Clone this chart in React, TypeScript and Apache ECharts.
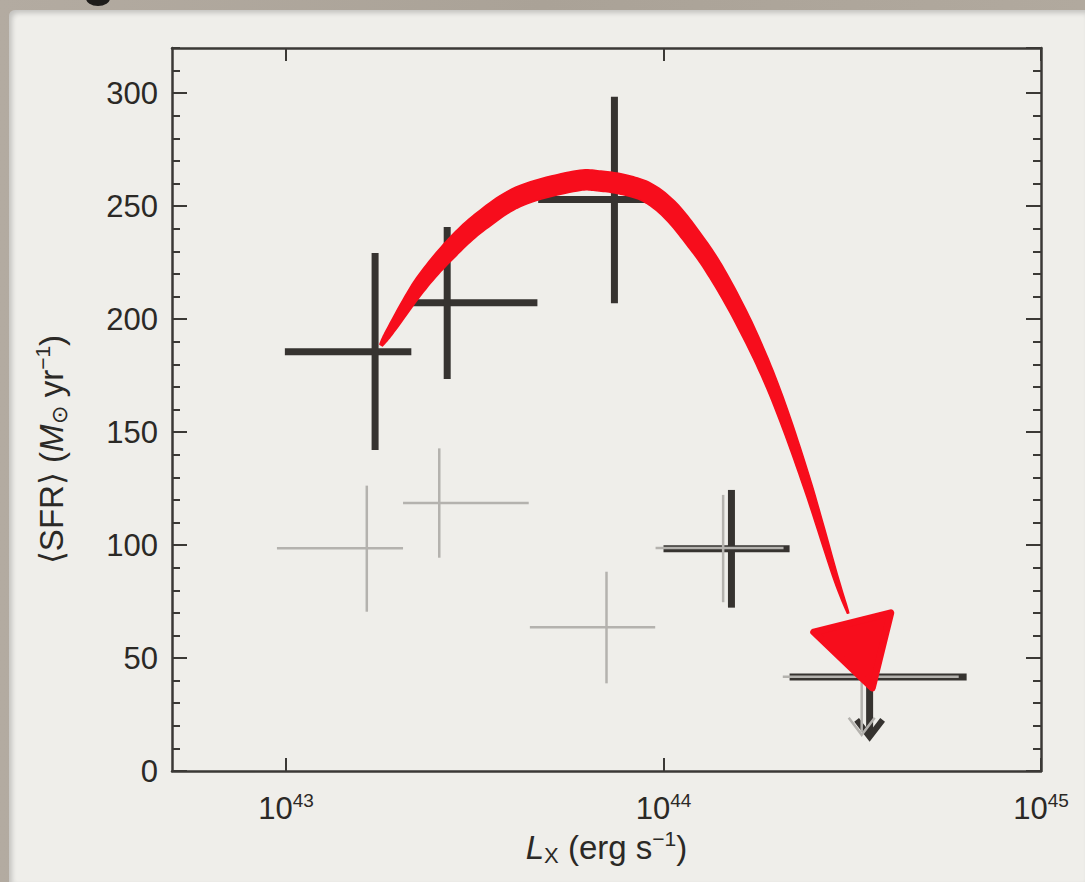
import React, { useEffect, useRef } from "react";
import * as echarts from "echarts";

// x values are log10(L_X / erg s^-1), y values are <SFR> in M_sun / yr
const xTickValues = [43, 44, 45];

const darkLogLx = [43.236, 43.427, 43.87, 44.18];
const darkLogLxLow = [42.997, 43.332, 43.668, 44.0];
const darkLogLxHigh = [43.332, 43.666, 44.0, 44.334];
const darkSFR = [185.6, 207.2, 253, 98.4];
const darkSFRLow = [142.1, 173.5, 207, 72.3];
const darkSFRHigh = [229.3, 240.8, 298.4, 124.4];

const greyLogLx = [43.214, 43.406, 43.849, 44.158];
const greyLogLxLow = [42.976, 43.31, 43.646, 43.979];
const greyLogLxHigh = [43.31, 43.643, 43.978, 44.318];
const greySFR = [98.6, 118.6, 63.6, 98.7];
const greySFRLow = [70.5, 94.4, 38.8, 74.7];
const greySFRHigh = [126.3, 142.8, 88.2, 122.2];

// upper limits (highest luminosity bin)
const darkLimitLogLx = [44.546];
const darkLimitLogLxLow = [44.334];
const darkLimitLogLxHigh = [44.803];
const darkLimitSFR = [41.6];
const darkLimitArrowTip = [15.1];

const greyLimitLogLx = [44.525];
const greyLimitLogLxLow = [44.316];
const greyLimitLogLxHigh = [44.782];
const greyLimitSFR = [41.7];
const greyLimitArrowTip = [16.0];

// hand-drawn red annotation arrow (centre line and head), in data coordinates
const redArrowLogLx = [43.252, 43.281, 43.355, 43.434, 43.514, 43.62, 43.766, 43.832, 43.898, 43.959, 44.017, 44.075, 44.136, 44.216, 44.295, 44.377, 44.454, 44.489];
const redArrowSFR = [188.5, 196.1, 215.1, 230.6, 243.0, 254.5, 261.1, 261.1, 259.4, 255.9, 248.3, 236.5, 221.8, 197.4, 167.7, 128.8, 86.8, 69.9];
const redHeadLogLx = [44.398, 44.602, 44.553];
const redHeadSFR = [61.5, 70.0, 36.8];

const DARK = "#363330";
const GREY = "#b4b2ae";
const RED = "#f70d1c";
const TEXT = "#2b2926";
const AXIS = "#3b3936";
const FONT = "'Liberation Sans', Arial, Helvetica, sans-serif";

const crossRender = (lw: number, color: string) => (params: any, api: any) => {
  const x = api.value(0), xl = api.value(1), xh = api.value(2);
  const y = api.value(3), yl = api.value(4), yh = api.value(5);
  const a = api.coord([xl, y]), b = api.coord([xh, y]);
  const c = api.coord([x, yl]), d = api.coord([x, yh]);
  return {
    type: "group",
    children: [
      { type: "line", shape: { x1: a[0], y1: a[1], x2: b[0], y2: b[1] }, style: { stroke: color, lineWidth: lw } },
      { type: "line", shape: { x1: c[0], y1: c[1], x2: d[0], y2: d[1] }, style: { stroke: color, lineWidth: lw } },
    ],
  };
};

const limitRender = (lw: number, color: string, headLw: number) => (params: any, api: any) => {
  const x = api.value(0), xl = api.value(1), xh = api.value(2);
  const y = api.value(3), tip = api.value(4);
  const a = api.coord([xl, y]), b = api.coord([xh, y]);
  const c = api.coord([x, y]), t = api.coord([x, tip]);
  return {
    type: "group",
    children: [
      { type: "line", shape: { x1: a[0], y1: a[1], x2: b[0], y2: b[1] }, style: { stroke: color, lineWidth: lw } },
      { type: "line", shape: { x1: c[0], y1: c[1], x2: t[0], y2: t[1] - 3 }, style: { stroke: color, lineWidth: lw } },
      {
        type: "polyline",
        shape: { points: [[t[0] - 13, t[1] - 17], [t[0], t[1]], [t[0] + 13, t[1] - 17]] },
        style: { stroke: color, lineWidth: headLw, fill: "none", lineJoin: "miter" },
      },
    ],
  };
};

// Catmull-Rom resampling of the stroke's centre line (pixel space), for rendering only
const resample = (pts: number[][], widths: number[], n: number) => {
  const outP: number[][] = [];
  const outW: number[] = [];
  for (let i = 0; i < pts.length - 1; i++) {
    const p0 = pts[Math.max(0, i - 1)], p1 = pts[i], p2 = pts[i + 1], p3 = pts[Math.min(pts.length - 1, i + 2)];
    for (let k = 0; k < n; k++) {
      const t = k / n, t2 = t * t, t3 = t2 * t;
      const f = (a: number, b: number, c: number, d: number) =>
        0.5 * (2 * b + (-a + c) * t + (2 * a - 5 * b + 4 * c - d) * t2 + (-a + 3 * b - 3 * c + d) * t3);
      outP.push([f(p0[0], p1[0], p2[0], p3[0]), f(p0[1], p1[1], p2[1], p3[1])]);
      outW.push(widths[i] + (widths[i + 1] - widths[i]) * t);
    }
  }
  outP.push(pts[pts.length - 1]);
  outW.push(widths[widths.length - 1]);
  return { outP, outW };
};

const redRender = (params: any, api: any) => {
  const widths = [3, 8, 14, 17, 18.5, 19.5, 20, 20, 20, 19.5, 19, 18, 17, 15, 12, 9, 5, 1.5];
  const raw = redArrowLogLx.map((x, i) => api.coord([x, redArrowSFR[i]]));
  const { outP: pts, outW } = resample(raw, widths, 12);
  const left: number[][] = [];
  const right: number[][] = [];
  pts.forEach((p: number[], i: number) => {
    const a = pts[Math.max(0, i - 1)];
    const b = pts[Math.min(pts.length - 1, i + 1)];
    let tx = b[0] - a[0], ty = b[1] - a[1];
    const len = Math.hypot(tx, ty) || 1;
    tx /= len; ty /= len;
    const nx = -ty, ny = tx, h = outW[i] / 2;
    left.push([p[0] + nx * h, p[1] + ny * h]);
    right.push([p[0] - nx * h, p[1] - ny * h]);
  });
  const body = left.concat(right.reverse());
  const head = redHeadLogLx.map((x, i) => api.coord([x, redHeadSFR[i]]));
  return {
    type: "group",
    children: [
      { type: "polygon", shape: { points: body }, style: { fill: RED, stroke: RED, lineWidth: 1.5, lineJoin: "round" } },
      { type: "polygon", shape: { points: head }, style: { fill: RED, stroke: RED, lineWidth: 7, lineJoin: "round" } },
    ],
  };
};

const darkRows = darkLogLx.map((x, i) => [x, darkLogLxLow[i], darkLogLxHigh[i], darkSFR[i], darkSFRLow[i], darkSFRHigh[i]]);
const greyRows = greyLogLx.map((x, i) => [x, greyLogLxLow[i], greyLogLxHigh[i], greySFR[i], greySFRLow[i], greySFRHigh[i]]);
const darkLimitRows = darkLimitLogLx.map((x, i) => [x, darkLimitLogLxLow[i], darkLimitLogLxHigh[i], darkLimitSFR[i], darkLimitArrowTip[i]]);
const greyLimitRows = greyLimitLogLx.map((x, i) => [x, greyLimitLogLxLow[i], greyLimitLogLxHigh[i], greyLimitSFR[i], greyLimitArrowTip[i]]);

const nameRich = {
  t: { fontSize: 33, lineHeight: 38, color: TEXT, fontFamily: FONT },
  i: { fontSize: 33, lineHeight: 38, color: TEXT, fontFamily: FONT, fontStyle: "italic" },
  sub: { fontSize: 22, lineHeight: 22, color: TEXT, fontFamily: FONT, verticalAlign: "bottom" },
  sup: { fontSize: 21, lineHeight: 22, color: TEXT, fontFamily: FONT, verticalAlign: "top" },
};

const axisLine = { show: true, onZero: false, lineStyle: { color: AXIS, width: 2.5 } };

const makeYAxis = (position: string, interval: number, tickLen: number, main: boolean, showLine: boolean) => ({
  type: "value",
  position,
  min: 0,
  max: 320,
  interval,
  offset: 0,
  axisLine: showLine ? axisLine : { show: false },
  axisTick: { show: true, inside: true, length: tickLen, lineStyle: { color: AXIS, width: 2 } },
  axisLabel: main
    ? { show: true, fontSize: 31, color: TEXT, fontFamily: FONT, margin: 14, showMaxLabel: false }
    : { show: false },
  splitLine: { show: false },
});

const option: any = {
  animation: false,
  backgroundColor: "transparent",
  grid: { left: 172, right: 44, top: 48, bottom: 111, containLabel: false },
  xAxis: [
    {
      type: "value",
      position: "bottom",
      min: 42.698,
      max: 45,
      axisLine,
      axisTick: { show: true, inside: true, length: 13, lineStyle: { color: AXIS, width: 2 }, customValues: xTickValues },
      axisLabel: {
        show: true,
        customValues: xTickValues,
        margin: 20,
        formatter: (v: number) => `{b|10}{s|${Math.round(v)}}`,
        rich: {
          b: { fontSize: 31, lineHeight: 34, color: TEXT, fontFamily: FONT },
          s: { fontSize: 19, lineHeight: 22, color: TEXT, fontFamily: FONT, verticalAlign: "top" },
        },
      },
      splitLine: { show: false },
      name: "{i|L}{sub|X}{t| (erg s}{sup|−1}{t|)}",
      nameLocation: "middle",
      nameGap: 55,
      nameTextStyle: { rich: nameRich },
    },
    {
      type: "value",
      position: "top",
      min: 42.698,
      max: 45,
      axisLine,
      axisTick: { show: true, inside: true, length: 13, lineStyle: { color: AXIS, width: 2 }, customValues: xTickValues },
      axisLabel: { show: false },
      splitLine: { show: false },
    },
  ],
  yAxis: [
    {
      ...makeYAxis("left", 50, 15, true, true),
      name: "{t|⟨SFR⟩ (}{i|M}{sub|⊙}{t| yr}{sup|−1}{t|)}",
      nameLocation: "middle",
      nameRotate: 90,
      nameGap: 102,
      nameTextStyle: { rich: nameRich, padding: [0, 80, 0, 0] },
    },
    makeYAxis("left", 10, 8, false, false),
    makeYAxis("right", 50, 15, false, true),
    makeYAxis("right", 10, 8, false, false),
  ],
  series: [
    { type: "custom", renderItem: crossRender(7, DARK), data: darkRows, encode: { x: 0, y: 3 }, z: 2 },
    { type: "custom", renderItem: limitRender(7, DARK, 6), data: darkLimitRows, encode: { x: 0, y: 3 }, z: 2 },
    { type: "custom", renderItem: crossRender(2.5, GREY), data: greyRows, encode: { x: 0, y: 3 }, z: 3 },
    { type: "custom", renderItem: limitRender(2.5, GREY, 2.5), data: greyLimitRows, encode: { x: 0, y: 3 }, z: 3 },
    { type: "custom", renderItem: redRender, data: [[43.8, 200]], encode: { x: 0, y: 1 }, z: 5, silent: true },
  ],
};

export default function App() {
  const ref = useRef<HTMLDivElement>(null);
  useEffect(() => {
    document.body.style.margin = "0";
    const chart = echarts.init(ref.current as HTMLDivElement, null, { renderer: "svg" });
    chart.setOption(option);
    return () => chart.dispose();
  }, []);
  return (
    <div
      style={{
        position: "relative",
        width: 1085,
        height: 882,
        overflow: "hidden",
        background: "linear-gradient(90deg, #b3aba1 0%, #aaa297 50%, #b1a99e 100%)",
      }}
    >
      <div
        style={{
          position: "absolute",
          left: 9,
          top: 10,
          right: 0,
          bottom: 0,
          background: "#efeeea",
          borderTopLeftRadius: 6,
          boxShadow: "inset 3px 3px 5px rgba(0,0,0,0.18)",
        }}
      />
      <div
        style={{
          position: "absolute",
          left: 86,
          top: -9,
          width: 24,
          height: 15,
          borderRadius: "50%",
          background: "#1e1c1a",
        }}
      />
      <div ref={ref} style={{ position: "absolute", left: 0, top: 0, width: 1085, height: 882 }} />
    </div>
  );
}
